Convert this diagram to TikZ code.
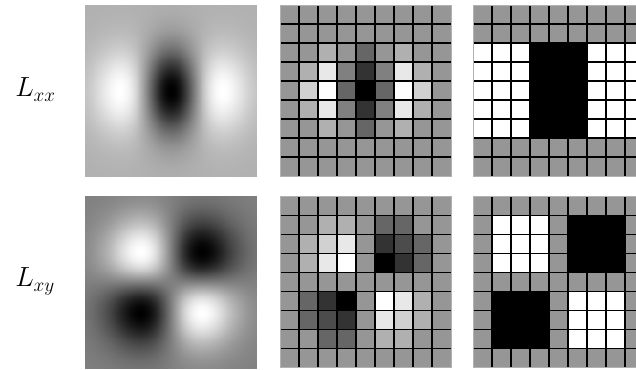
\documentclass[tikz,border=0pt]{standalone}
\usepackage{pgfplots}
\pgfplotsset{compat=1.18}
\pgfplotsset{
    gaussmap/.style={anchor=south west, width=4.525cm, height=4.525cm,
        scale only axis, hide axis, view={0}{90}, enlargelimits=false,
        colormap/blackwhite, samples=61}
}
% one 9x9 block of grey cells, rows given top to bottom in percent white
\newcommand{\cellgrid}[1]{%
    \foreach \rowvals [count=\ri] in {#1} {
        \foreach \w [count=\ci] in \rowvals
            \fill[white!\w!black] (\ci-1,9-\ri) rectangle (\ci,10-\ri);
    }}
\newcommand{\gridlines}{%
    \foreach \i in {1,...,8}
        \draw[gridline] (\i,0) -- (\i,9) (0,\i) -- (9,\i);}

\begin{document}
\begin{tikzpicture}[x=0.5cm, y=0.5cm,
    gridline/.style={black, line width=1.2pt},
    gridframe/.style={draw=gray!60, line width=0.6pt},
    basecell/.style={fill=white!59!black},
    filtername/.style={inner sep=0pt, anchor=base west,
        font=\fontsize{22}{26}\selectfont}
]
\useasboundingbox (0,0) rectangle (33.47,19.47);

\node[filtername] (lxx) at (0.79,14.37) {$L_{xx}$};
\node[filtername] (lxy) at (0.79,4.37) {$L_{xy}$};

% continuous second order derivatives
\coordinate (gxx) at (4.47,10.16);
\coordinate (gxy) at (4.47,0.1);
\begin{axis}[gaussmap, at={(gxx)}, domain=-2.9:2.9, y domain=-2.9:2.9,
    point meta min=-1, point meta max=0.4463]
    \addplot3[surf, shader=interp] {(x*x-1)*exp(-(x*x+y*y)/2)};
\end{axis}
\begin{axis}[gaussmap, at={(gxy)}, domain=-2.8:2.8, y domain=-2.8:2.8,
    point meta min=-0.3679, point meta max=0.3679]
    \addplot3[surf, shader=interp] {-x*y*exp(-(x*x+y*y)/2)};
\end{axis}

% discretised and cropped
\begin{scope}[shift={(14.74,10.21)}]
    \cellgrid{{59,59,59,59,59,59,59,59,59},
              {59,59,59,59,59,59,59,59,59},
              {59,59,69,59,40,59,69,59,59},
              {59,69,91,50,20,50,91,69,59},
              {59,82,100,40,0,40,100,82,59},
              {59,69,91,50,20,50,91,69,59},
              {59,59,69,59,40,59,69,59,59},
              {59,59,59,59,59,59,59,59,59},
              {59,59,59,59,59,59,59,59,59}}
    \gridlines
    \draw[gridframe] (0,0) rectangle (9,9);
\end{scope}
\begin{scope}[shift={(14.74,0.12)}]
    \cellgrid{{59,59,59,59,59,59,59,59,59},
              {59,59,69,69,59,40,40,59,59},
              {59,69,82,91,59,20,30,40,59},
              {59,69,91,100,59,0,20,40,59},
              {59,59,59,59,59,59,59,59,59},
              {59,40,20,0,59,100,91,69,59},
              {59,40,30,20,59,91,82,69,59},
              {59,59,40,40,59,69,69,59,59},
              {59,59,59,59,59,59,59,59,59}}
    \gridlines
    \draw[gridframe] (0,0) rectangle (9,9);
\end{scope}

% box filter approximations
\begin{scope}[shift={(24.89,10.21)}]
    \fill[basecell] (0,0) rectangle (9,9);
    \fill[white] (0,2) rectangle (3,7) (6,2) rectangle (9,7);
    \gridlines
    \fill[black] (3,2) rectangle (6,7);
    \draw[gridframe] (0,0) rectangle (9,9);
\end{scope}
\begin{scope}[shift={(24.89,0.12)}]
    \fill[basecell] (0,0) rectangle (9,9);
    \fill[white] (1,5) rectangle (4,8) (5,1) rectangle (8,4);
    \gridlines
    \fill[black] (5,5) rectangle (8,8) (1,1) rectangle (4,4);
    \draw[gridframe] (0,0) rectangle (9,9);
\end{scope}
\end{tikzpicture}
\end{document}
